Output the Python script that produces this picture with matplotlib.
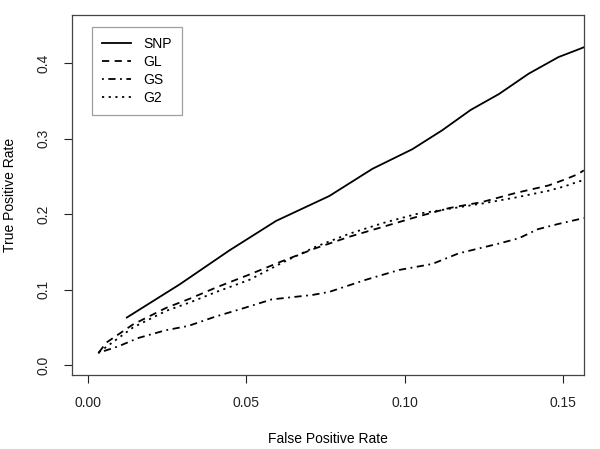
import matplotlib
matplotlib.use("Agg")
import matplotlib.pyplot as plt

plt.rcParams['font.family'] = ['Liberation Sans', 'DejaVu Sans']

# ROC points
snp_fpr = [0.0123, 0.029, 0.0447, 0.0594, 0.0762, 0.0898, 0.1024, 0.1118, 0.1208, 0.1297, 0.1391, 0.1485, 0.1547, 0.1565]
snp_tpr = [0.063, 0.107, 0.152, 0.191, 0.224, 0.260, 0.286, 0.311, 0.338, 0.359, 0.386, 0.408, 0.418, 0.421]

gl_fpr = [0.0035, 0.0059, 0.0143, 0.0248, 0.0322, 0.0406, 0.051, 0.0615, 0.072, 0.0825, 0.093, 0.1035, 0.114, 0.1244, 0.135, 0.1454, 0.1506, 0.1547, 0.1565]
gl_tpr = [0.017, 0.030, 0.054, 0.076, 0.088, 0.103, 0.120, 0.138, 0.155, 0.170, 0.183, 0.196, 0.208, 0.216, 0.228, 0.238, 0.246, 0.253, 0.258]

gs_fpr = [0.0032, 0.0097, 0.016, 0.0244, 0.0318, 0.0401, 0.0496, 0.058, 0.071, 0.0762, 0.0877, 0.0982, 0.1087, 0.117, 0.1297, 0.136, 0.142, 0.1485, 0.1547, 0.1565]
gs_tpr = [0.016, 0.025, 0.036, 0.046, 0.052, 0.064, 0.076, 0.087, 0.093, 0.097, 0.113, 0.126, 0.134, 0.148, 0.161, 0.168, 0.180, 0.187, 0.193, 0.195]

g2_fpr = [0.0035, 0.0143, 0.0248, 0.0322, 0.0406, 0.051, 0.0615, 0.072, 0.0825, 0.093, 0.1035, 0.114, 0.1244, 0.135, 0.1454, 0.1506, 0.1547, 0.1565]
g2_tpr = [0.017, 0.050, 0.072, 0.083, 0.097, 0.113, 0.136, 0.157, 0.174, 0.188, 0.200, 0.207, 0.214, 0.222, 0.231, 0.237, 0.243, 0.245]

x_ticks = [0.00, 0.05, 0.10, 0.15]
x_labels = ['0.00', '0.05', '0.10', '0.15']
y_ticks = [0.0, 0.1, 0.2, 0.3, 0.4]
y_labels = ['0.0', '0.1', '0.2', '0.3', '0.4']

fig = plt.figure(figsize=(6.0, 4.49), dpi=100)
ax = fig.add_axes([0.12, 0.165, 0.853, 0.802])

lw = 1.3
ax.plot(snp_fpr, snp_tpr, color='black', lw=lw, linestyle='-', label='SNP')
ax.plot(gl_fpr, gl_tpr, color='black', lw=lw, linestyle=(0, (4, 3)), label='GL')
ax.plot(gs_fpr, gs_tpr, color='black', lw=lw, linestyle=(0, (1, 2.5, 4, 2.5)), label='GS')
ax.plot(g2_fpr, g2_tpr, color='black', lw=lw, linestyle=(0, (1.2, 2.5)), label='G2')

ax.set_xlim(-0.005, 0.1565)
ax.set_ylim(-0.013, 0.464)

ax.set_xticks(x_ticks)
ax.set_xticklabels(x_labels)
ax.set_yticks(y_ticks)
ax.set_yticklabels(y_labels, rotation=90, va='center')
ax.tick_params(direction='out', length=5.5, width=0.8, labelsize=10, colors='#222222')
ax.tick_params(axis='x', pad=9.5)
ax.tick_params(axis='y', pad=10)
for sp in ax.spines.values():
    sp.set_color('#444444')
    sp.set_linewidth(0.9)

ax.set_xlabel('False Positive Rate', fontsize=10, labelpad=16)
ax.set_ylabel('True Positive Rate', fontsize=10, labelpad=14)

leg = ax.legend(loc='upper left', bbox_to_anchor=(0.0385, 0.9675), fontsize=10, frameon=True,
                fancybox=False, edgecolor='#888888', handlelength=2.1, handletextpad=0.9,
                labelspacing=0.3, borderpad=0.72, borderaxespad=0)
leg.get_frame().set_linewidth(0.9)

fig.savefig('out.png', dpi=100)
